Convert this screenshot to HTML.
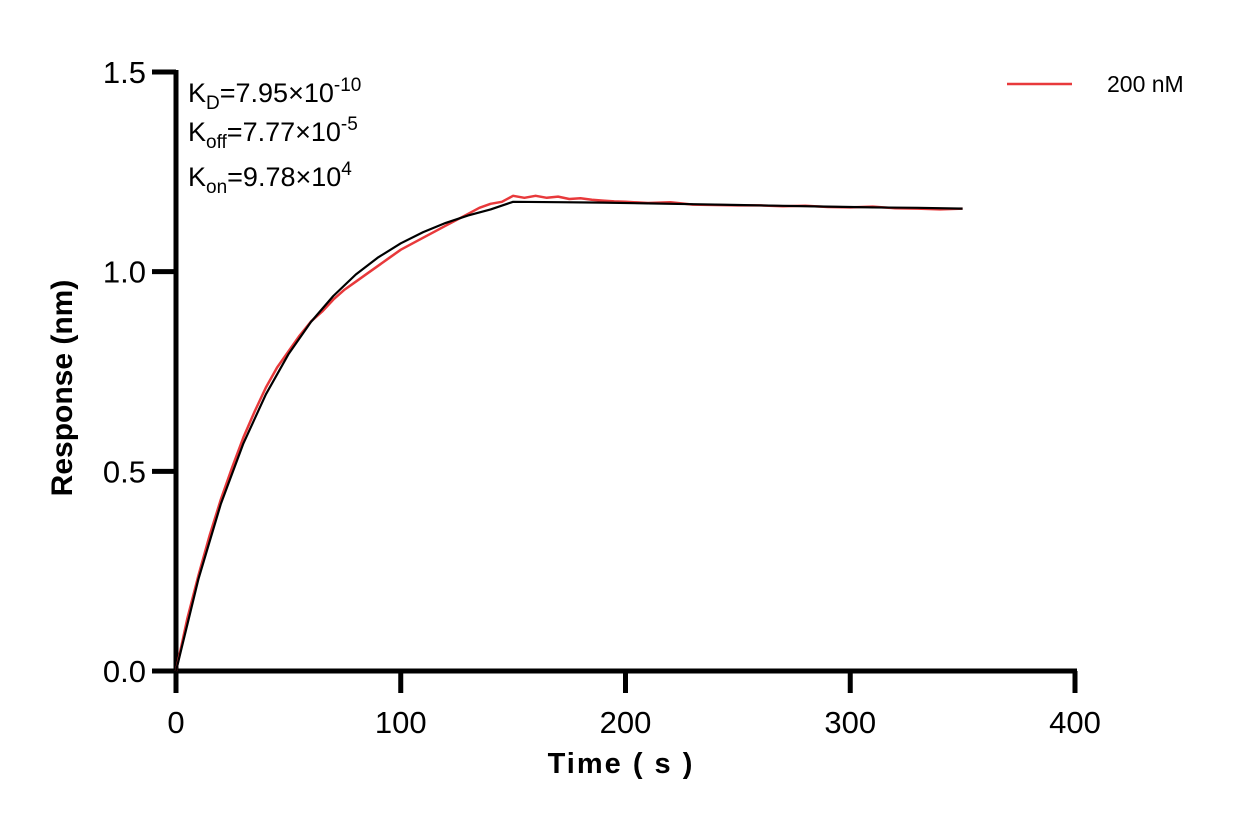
<!DOCTYPE html>
<html><head><meta charset="utf-8"><style>
html,body{margin:0;padding:0;background:#fff;}
svg{display:block;font-family:"Liberation Sans",Arial,sans-serif;}
</style></head><body>
<svg id="chart" width="1233" height="825" viewBox="0 0 1233 825">
<g id="axes"></g>
<g id="series"></g>
<text x="188" y="102" font-size="27">K<tspan font-size="19" dy="7">D</tspan><tspan dy="-7">=7.95×10</tspan><tspan font-size="19" dy="-11">-10</tspan></text>
<text x="188" y="141" font-size="27">K<tspan font-size="19" dy="7">off</tspan><tspan dy="-7">=7.77×10</tspan><tspan font-size="19" dy="-11">-5</tspan></text>
<text x="188" y="186" font-size="27">K<tspan font-size="19" dy="7">on</tspan><tspan dy="-7">=9.78×10</tspan><tspan font-size="19" dy="-11">4</tspan></text>
<line x1="1007" y1="84" x2="1072" y2="84" stroke="#e8393b" stroke-width="2.5"/>
<text x="1107" y="92" font-size="23">200 nM</text>
<text transform="translate(72,388) rotate(-90)" text-anchor="middle" font-size="30" font-weight="bold">Response (nm)</text>
<text x="621" y="773" text-anchor="middle" font-size="29" font-weight="bold" letter-spacing="2">Time ( s )</text>
</svg>
<script>
const xTicks=[0,100,200,300,400];
const yTicks=[0,0.5,1.0,1.5];
const yTickLabels=["0.0","0.5","1.0","1.5"];
const fitTimes=[0,10,20,30,40,50,60,70,80,90,100,110,120,130,140,150,170,190,210,230,250,270,290,310,330,350];
const fitValues=[0,0.231,0.419,0.570,0.693,0.793,0.874,0.939,0.993,1.036,1.071,1.099,1.122,1.141,1.156,1.175,1.174,1.173,1.171,1.169,1.167,1.165,1.163,1.161,1.160,1.158];
const dataTimes=[0,5,10,15,20,25,30,35,40,45,50,55,60,65,70,75,80,85,90,95,100,105,110,115,120,125,130,135,140,145,150,155,160,165,170,175,180,185,190,195,200,210,220,230,240,250,260,270,280,290,300,310,320,330,340,350];
const dataValues=[0,0.13,0.24,0.34,0.43,0.51,0.585,0.65,0.71,0.76,0.80,0.84,0.875,0.90,0.93,0.955,0.975,0.995,1.015,1.035,1.055,1.07,1.085,1.10,1.115,1.13,1.145,1.16,1.17,1.175,1.19,1.185,1.19,1.185,1.188,1.182,1.184,1.18,1.178,1.176,1.175,1.172,1.174,1.168,1.167,1.166,1.166,1.164,1.165,1.162,1.161,1.163,1.159,1.158,1.156,1.158];
const X=v=>176+v*(1075-176)/400;
const Y=v=>671-v*(671-72)/1.5;
const NS="http://www.w3.org/2000/svg";
const axes=document.getElementById('axes'), series=document.getElementById('series');
function mk(tag,attrs,parent){const e=document.createElementNS(NS,tag);for(const k in attrs)e.setAttribute(k,attrs[k]);parent.appendChild(e);return e;}
let el=mk('line',{x1:X(0),y1:Y(1.5)-2,x2:X(0),y2:Y(0)+2,stroke:'#000','stroke-width':5},axes);


el=mk('line',{x1:X(0)-2,y1:Y(0),x2:X(400)+2,y2:Y(0),stroke:'#000','stroke-width':5},axes);


xTicks.forEach(t=>{
 let l=mk('line',{x1:X(t),y1:Y(0),x2:X(t),y2:Y(0)+22,stroke:'#000','stroke-width':5},axes);
 
 
 let tx=mk('text',{x:X(t),y:Y(0)+62,'text-anchor':'middle','font-size':31},axes);tx.textContent=t;
 
 
});
yTicks.forEach((t,i)=>{
 let l=mk('line',{x1:X(0)-24,y1:Y(t),x2:X(0),y2:Y(t),stroke:'#000','stroke-width':5},axes);
 
 
 let tx=mk('text',{x:X(0)-30,y:Y(t)+11,'text-anchor':'end','font-size':31},axes);tx.textContent=yTickLabels[i];
 
 
});
const pts=(ts,vs)=>ts.map((t,i)=>X(t).toFixed(1)+','+Y(vs[i]).toFixed(1)).join(' ');
el=mk('polyline',{points:pts(dataTimes,dataValues),fill:'none',stroke:'#e8393b','stroke-width':2.5,'stroke-linejoin':'round'},series);


el=mk('polyline',{points:pts(fitTimes,fitValues),fill:'none',stroke:'#000','stroke-width':2.2,'stroke-linejoin':'round'},series);


</script>
</body></html>
